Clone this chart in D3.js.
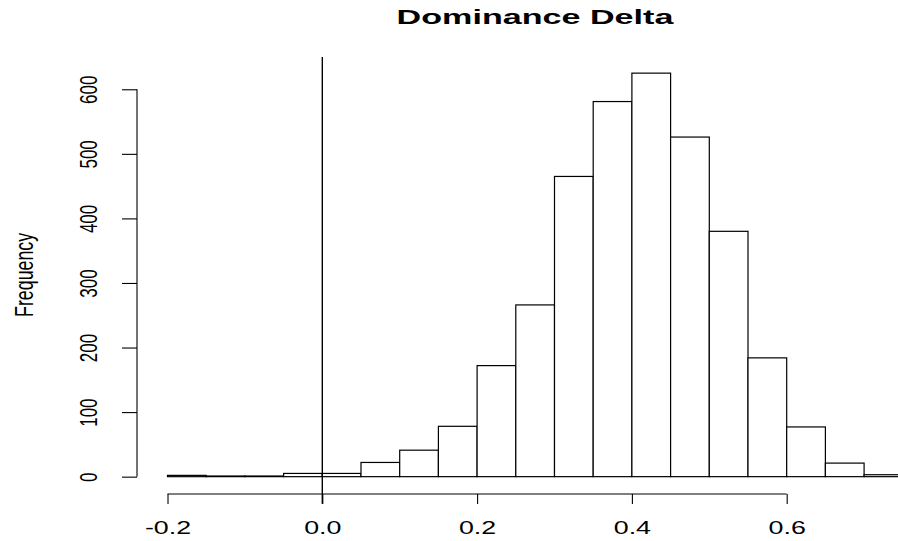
<!DOCTYPE html>
<meta charset="utf-8">
<style>
  body { margin: 0; background: #fff; }
  svg { display: block; }
  text { font-family: "Liberation Sans", Arial, sans-serif; fill: #000; }
  .bar { fill: #fff; stroke: #000; stroke-width: 1.2; }
  .axis .domain { display: none; }
  .axis line, .axis path.base { stroke: #000; stroke-width: 1.1; fill: none; }
</style>
<svg width="898" height="541"></svg>
<script src="https://cdn.jsdelivr.net/npm/d3@7"></script>
<script>
  // histogram breaks and counts
  var breaks = [-0.2, -0.15, -0.1, -0.05, 0, 0.05, 0.1, 0.15, 0.2, 0.25, 0.3,
    0.35, 0.4, 0.45, 0.5, 0.55, 0.6, 0.65, 0.7, 0.75];
  var counts = [2, 1, 1, 5, 5, 22, 41, 78, 172, 266, 465, 581, 625, 526, 380, 184, 77, 21, 3];
  var xTicks = [-0.2, 0, 0.2, 0.4, 0.6];
  var xTickLabels = ["-0.2", "0.0", "0.2", "0.4", "0.6"];
  var yTicks = [0, 100, 200, 300, 400, 500, 600];
  var refX = 0; // vertical reference line
  var refY = [-42, 650];

  var svg = d3.select("svg");
  var stretch = 1.45; // text in the reference is wider than tall

  var x = d3.scaleLinear().domain([-0.238, 0.788]).range([138.1, 932.2]);
  var y = d3.scaleLinear().domain([-25, 650]).range([492.8, 57]);

  var bins = counts.map(function(c, i) {
    return { x0: breaks[i], x1: breaks[i + 1], n: c };
  });

  svg.append("g")
    .selectAll("rect")
    .data(bins)
    .enter().append("rect")
    .attr("class", "bar")
    .attr("x", function(d) { return x(d.x0); })
    .attr("width", function(d) { return x(d.x1) - x(d.x0); })
    .attr("y", function(d) { return y(d.n); })
    .attr("height", function(d) { return y(0) - y(d.n); });

  svg.append("line")
    .attr("x1", x(refX)).attr("x2", x(refX))
    .attr("y1", y(refY[0])).attr("y2", y(refY[1]))
    .attr("stroke", "#000")
    .attr("stroke-width", 1.4);

  // x axis
  var gx = svg.append("g")
    .attr("class", "axis")
    .attr("transform", "translate(0,494)")
    .call(d3.axisBottom(x)
      .tickValues(xTicks)
      .tickSize(10)
      .tickFormat(function(d, i) { return xTickLabels[i]; }));
  gx.append("path").attr("class", "base")
    .attr("d", "M" + x(xTicks[0]) + ",0H" + x(xTicks[xTicks.length - 1]));
  gx.selectAll(".tick text")
    .attr("y", null).attr("dy", null)
    .attr("font-size", 18.5)
    .attr("font-family", null)
    .attr("transform", "translate(0,40) scale(" + stretch + ",1)");

  // y axis
  var gy = svg.append("g")
    .attr("class", "axis")
    .attr("transform", "translate(137,0)")
    .call(d3.axisLeft(y).tickValues(yTicks).tickSize(15));
  gy.append("path").attr("class", "base")
    .attr("d", "M0," + y(yTicks[0]) + "V" + y(yTicks[yTicks.length - 1]));
  gy.selectAll(".tick text")
    .attr("x", null).attr("dy", null)
    .attr("font-size", 17)
    .attr("font-family", null)
    .attr("text-anchor", "middle")
    .attr("transform", "translate(-40,0) scale(" + stretch + ",1) rotate(-90)");

  svg.append("text")
    .attr("text-anchor", "middle")
    .attr("font-size", 17.8)
    .attr("transform", "translate(33," + y(312.5) + ") scale(" + stretch + ",1) rotate(-90)")
    .text("Frequency");

  svg.append("text")
    .attr("text-anchor", "middle")
    .attr("font-size", 19.5)
    .attr("font-weight", "bold")
    .attr("transform", "translate(535,24) scale(1.75,1)")
    .text("Dominance Delta");
</script>
